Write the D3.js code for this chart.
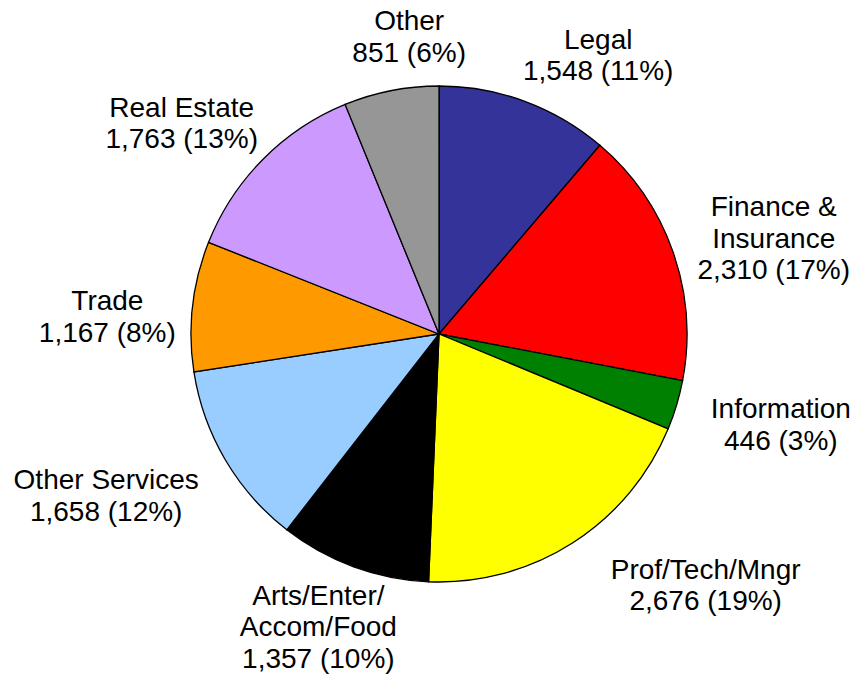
<!DOCTYPE html>
<html>
<head>
<meta charset="utf-8">
<script src="https://cdn.jsdelivr.net/npm/d3@7"></script>
<style>
  body { margin: 0; background: #fff; }
  text { font-family: Arial, "Liberation Sans", sans-serif; fill: #000; }
</style>
</head>
<body>
<div id="chart"></div>
<script>
const sectors = ["Legal", "Finance & Insurance", "Information", "Prof/Tech/Mngr",
  "Arts/Enter/ Accom/Food", "Other Services", "Trade", "Real Estate", "Other"];
const labelLines = [["Legal"], ["Finance &", "Insurance"], ["Information"], ["Prof/Tech/Mngr"],
  ["Arts/Enter/", "Accom/Food"], ["Other Services"], ["Trade"], ["Real Estate"], ["Other"]];
const counts = [1548, 2310, 446, 2676, 1357, 1658, 1167, 1763, 851];
const percents = [11, 17, 3, 19, 10, 12, 8, 13, 6];
const colors = ["#333399", "#ff0000", "#008000", "#ffff00", "#000000",
  "#99ccff", "#ff9900", "#cc99ff", "#969696"];

const width = 856, height = 681;
const cx = 439, cy = 334, radius = 248;
const fontSize = 28, lineH = 31.5;
// small hand corrections on top of the automatic label placement (layout only)
const labelNudge = [[-5, 2], [-2, 16], [8, 5], [18, 1], [46, 4], [0, 8], [10, 20], [17, 7], [52, -5]];

const svg = d3.select("#chart")
  .append("svg")
  .attr("width", width)
  .attr("height", height);

const data = sectors.map((s, i) => ({ name: s, lines: labelLines[i], value: counts[i], pct: percents[i], color: colors[i], nudge: labelNudge[i] }));

const pie = d3.pie()
  .sort(null)
  .value(d => d.value);

const arc = d3.arc()
  .innerRadius(0)
  .outerRadius(radius);

const g = svg.append("g")
  .attr("transform", `translate(${cx},${cy})`);

const arcs = pie(data);

g.selectAll("path")
  .data(arcs)
  .join("path")
  .attr("d", arc)
  .attr("fill", d => d.data.color)
  .attr("stroke", "#000")
  .attr("stroke-width", 1.3);

const fmt = d3.format(",");
const clamp = v => Math.max(-1, Math.min(1, v));

// labels sit just outside the rim, pushed away along the slice mid-angle
arcs.forEach(d => {
  const lines = d.data.lines.concat([`${fmt(d.data.value)} (${d.data.pct}%)`]);
  const a = (d.startAngle + d.endAngle) / 2;
  const lab = g.append("text")
    .attr("text-anchor", "middle")
    .style("font-size", fontSize + "px");
  lines.forEach((l, i) => {
    lab.append("tspan").attr("x", 0).attr("y", i * lineH).text(l);
  });
  const bb = lab.node().getBBox();
  const w = bb.width, h = lines.length * lineH;
  const r = radius + 20;
  const px = r * Math.sin(a), py = -r * Math.cos(a);
  const sx = clamp(Math.sin(a) * 2.5) * 1.1, sy = clamp(-Math.cos(a) * 1.5) * 0.85;
  const mx = px + sx * w / 2 + d.data.nudge[0], my = py + sy * h / 2 + d.data.nudge[1];
  const top = my - h / 2;
  lab.attr("transform", `translate(${mx},${top + fontSize * 0.8})`);
});
</script>
</body>
</html>
